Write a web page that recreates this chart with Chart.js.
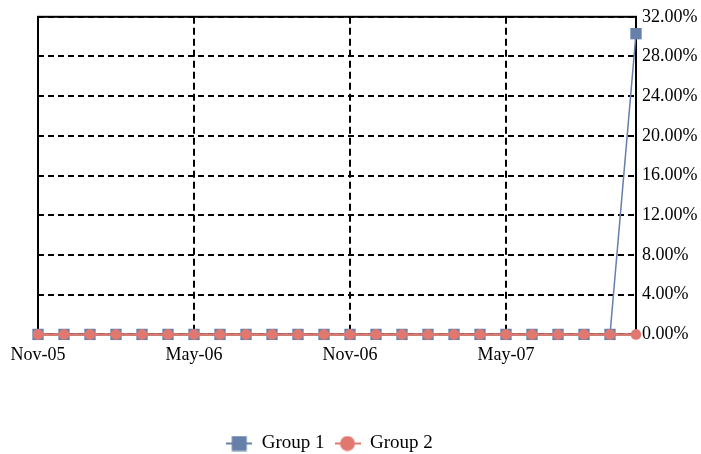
<!DOCTYPE html>
<html>
<head>
<meta charset="utf-8">
<script src="https://cdn.jsdelivr.net/npm/chart.js@4"></script>
<style>
  html, body { margin: 0; padding: 0; background: #fff; }
  #wrap { width: 701px; height: 454px; }
</style>
</head>
<body>
<div id="wrap"><canvas id="myChart" width="701" height="454"></canvas></div>
<script>
const months = ['Nov-05', 'Dec-05', 'Jan-06', 'Feb-06', 'Mar-06', 'Apr-06',
  'May-06', 'Jun-06', 'Jul-06', 'Aug-06', 'Sep-06', 'Oct-06',
  'Nov-06', 'Dec-06', 'Jan-07', 'Feb-07', 'Mar-07', 'Apr-07',
  'May-07', 'Jun-07', 'Jul-07', 'Aug-07', 'Sep-07', 'Oct-07'];
const group1 = [0, 0, 0, 0, 0, 0, 0, 0, 0, 0, 0, 0,
  0, 0, 0, 0, 0, 0, 0, 0, 0, 0, 0, 0.303];
const group2 = [0, 0, 0, 0, 0, 0, 0, 0, 0, 0, 0, 0,
  0, 0, 0, 0, 0, 0, 0, 0, 0, 0, 0, 0];
const yTicks = [0, 0.04, 0.08, 0.12, 0.16, 0.20, 0.24, 0.28, 0.32];

const BLUE = '#6680aa';
const RED = '#e07870';
const font = { family: 'Liberation Serif', size: 18 };

// legend key: short line with the marker in the middle
function legendKey(color, shape) {
  const cv = document.createElement('canvas');
  cv.width = 26;
  cv.height = 16;
  const c = cv.getContext('2d');
  c.strokeStyle = color;
  c.lineWidth = 2;
  c.beginPath();
  c.moveTo(0, 8);
  c.lineTo(26, 8);
  c.stroke();
  c.fillStyle = color;
  if (shape === 'rect') {
    c.fillRect(5.5, 0.5, 15, 15);
  } else {
    c.beginPath();
    c.arc(13, 8, 7.5, 0, Math.PI * 2);
    c.fill();
  }
  return cv;
}

// solid black frame round the plot area, and the legend nudged like the original
const frame = {
  id: 'frame',
  afterLayout(chart) {
    const lg = chart.legend;
    lg.left -= 40;
    lg.right -= 40;
    lg.top += 9;
    lg.bottom += 9;
  },
  beforeDatasetsDraw(chart) {
    const a = chart.chartArea;
    const c = chart.ctx;
    c.save();
    c.strokeStyle = '#000';
    c.lineWidth = 2;
    c.strokeRect(a.left, a.top, a.right - a.left, a.bottom - a.top);
    c.restore();
  }
};

const ctx = document.getElementById('myChart').getContext('2d');
new Chart(ctx, {
  type: 'line',
  data: {
    labels: months,
    datasets: [
      {
        label: 'Group 1',
        data: group1,
        order: 2,
        clip: false,
        borderColor: BLUE,
        backgroundColor: BLUE,
        borderWidth: 1.5,
        pointStyle: 'rect',
        pointRadius: 8,
        pointBorderWidth: 0
      },
      {
        label: 'Group 2',
        data: group2,
        order: 1,
        clip: false,
        borderColor: RED,
        backgroundColor: RED,
        borderWidth: 2.5,
        pointStyle: 'circle',
        pointRadius: 5.3,
        pointBorderWidth: 0
      }
    ]
  },
  options: {
    responsive: false,
    animation: false,
    layout: { padding: { left: 38, right: 0, top: 15, bottom: 0 } },
    plugins: {
      tooltip: { enabled: false },
      legend: {
        position: 'bottom',
        reverse: true,
        labels: {
          usePointStyle: true,
          pointStyleWidth: 26,
          boxHeight: 16,
          color: '#000',
          font: { family: 'Liberation Serif', size: 19 },
          padding: 10,
          generateLabels: chart => {
            const items = Chart.defaults.plugins.legend.labels.generateLabels(chart);
            items.forEach(it => {
              it.pointStyle = it.text === 'Group 1' ? legendKey(BLUE, 'rect') : legendKey(RED, 'circle');
            });
            return items;
          }
        }
      }
    },
    scales: {
      x: {
        grid: {
          drawTicks: false,
          lineWidth: 2,
          color: c => (c.index % 6 === 0 && c.index > 0 ? '#000' : 'rgba(0,0,0,0)')
        },
        border: { display: false, dash: [7, 4] },
        ticks: {
          autoSkip: false,
          maxRotation: 0,
          padding: 10,
          color: '#000',
          font: font,
          callback: (v, i) => (i % 6 === 0 ? months[i] : '')
        },
        afterFit: scale => { scale.height += 39; }
      },
      y: {
        position: 'right',
        min: 0,
        max: 0.32,
        afterBuildTicks: scale => { scale.ticks = yTicks.map(v => ({ value: v })); },
        afterFit: scale => { scale.width = 65; },
        grid: {
          drawTicks: false,
          lineWidth: 2,
          color: '#000'
        },
        border: { display: false, dash: [6, 4] },
        ticks: {
          padding: 6,
          color: '#000',
          font: font,
          callback: v => (v * 100).toFixed(2) + '%'
        }
      }
    }
  },
  plugins: [frame]
});
</script>
</body>
</html>
